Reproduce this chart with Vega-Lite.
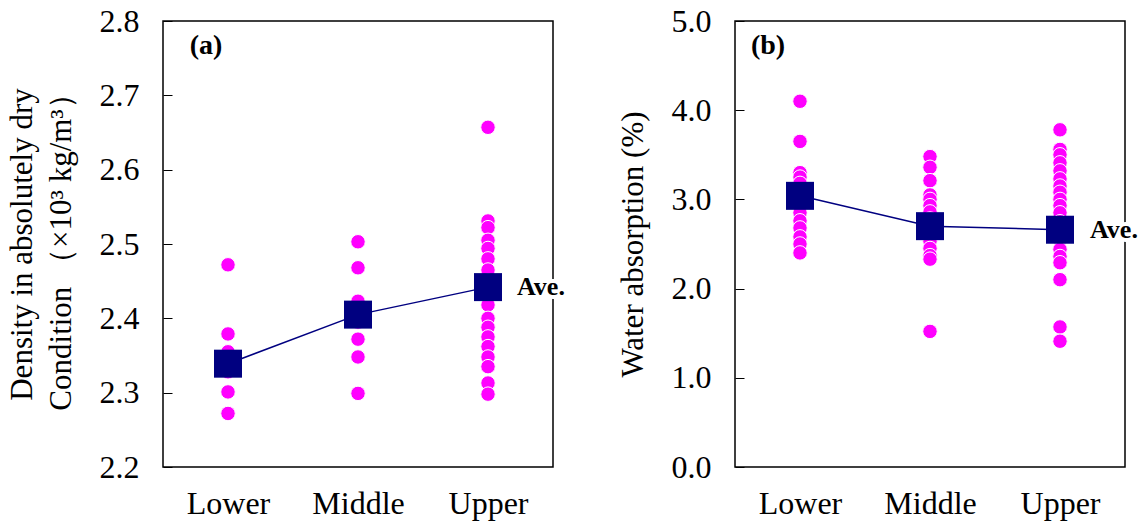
{
  "$schema": "https://vega.github.io/schema/vega-lite/v6.json",
  "padding": {"left": 5, "top": 4, "right": 0, "bottom": 5},
  "background": "white",
  "config": {
    "font": "Liberation Serif",
    "view": {"stroke": "black", "strokeWidth": 1.5},
    "text": {"font": "Liberation Serif"},
    "style": {"guide-label": {"font": "Liberation Serif"}, "guide-title": {"font": "Liberation Serif"}},
    "axis": {"labelColor": "black", "titleColor": "black", "labelFont": "Liberation Serif", "titleFont": "Liberation Serif", "titleFontWeight": "normal", "grid": false, "domain": false}
  },
  "datasets": {
    "density": [
      {"pos": "Lower", "v": 2.472}, {"pos": "Lower", "v": 2.379}, {"pos": "Lower", "v": 2.355}, {"pos": "Lower", "v": 2.345}, {"pos": "Lower", "v": 2.328}, {"pos": "Lower", "v": 2.301}, {"pos": "Lower", "v": 2.272},
      {"pos": "Middle", "v": 2.503}, {"pos": "Middle", "v": 2.468}, {"pos": "Middle", "v": 2.423}, {"pos": "Middle", "v": 2.41}, {"pos": "Middle", "v": 2.395}, {"pos": "Middle", "v": 2.372}, {"pos": "Middle", "v": 2.348}, {"pos": "Middle", "v": 2.299},
      {"pos": "Upper", "v": 2.657}, {"pos": "Upper", "v": 2.531}, {"pos": "Upper", "v": 2.522}, {"pos": "Upper", "v": 2.505}, {"pos": "Upper", "v": 2.494}, {"pos": "Upper", "v": 2.48}, {"pos": "Upper", "v": 2.465}, {"pos": "Upper", "v": 2.45}, {"pos": "Upper", "v": 2.43}, {"pos": "Upper", "v": 2.418}, {"pos": "Upper", "v": 2.4}, {"pos": "Upper", "v": 2.388}, {"pos": "Upper", "v": 2.375}, {"pos": "Upper", "v": 2.362}, {"pos": "Upper", "v": 2.348}, {"pos": "Upper", "v": 2.335}, {"pos": "Upper", "v": 2.313}, {"pos": "Upper", "v": 2.298}
    ],
    "densityAvg": [
      {"pos": "Lower", "v": 2.339}, {"pos": "Middle", "v": 2.405}, {"pos": "Upper", "v": 2.442, "label": "Ave."}
    ],
    "densityTag": [{"pos": "Lower", "v": 2.767, "t": "(a)"}],
    "water": [
      {"pos": "Lower", "v": 4.1}, {"pos": "Lower", "v": 3.65}, {"pos": "Lower", "v": 3.3}, {"pos": "Lower", "v": 3.25}, {"pos": "Lower", "v": 3.18}, {"pos": "Lower", "v": 3.1}, {"pos": "Lower", "v": 2.98}, {"pos": "Lower", "v": 2.9}, {"pos": "Lower", "v": 2.85}, {"pos": "Lower", "v": 2.76}, {"pos": "Lower", "v": 2.68}, {"pos": "Lower", "v": 2.58}, {"pos": "Lower", "v": 2.5}, {"pos": "Lower", "v": 2.4},
      {"pos": "Middle", "v": 3.48}, {"pos": "Middle", "v": 3.36}, {"pos": "Middle", "v": 3.21}, {"pos": "Middle", "v": 3.05}, {"pos": "Middle", "v": 3.0}, {"pos": "Middle", "v": 2.93}, {"pos": "Middle", "v": 2.86}, {"pos": "Middle", "v": 2.78}, {"pos": "Middle", "v": 2.62}, {"pos": "Middle", "v": 2.53}, {"pos": "Middle", "v": 2.45}, {"pos": "Middle", "v": 2.37}, {"pos": "Middle", "v": 2.33}, {"pos": "Middle", "v": 1.52},
      {"pos": "Upper", "v": 3.78}, {"pos": "Upper", "v": 3.56}, {"pos": "Upper", "v": 3.5}, {"pos": "Upper", "v": 3.41}, {"pos": "Upper", "v": 3.32}, {"pos": "Upper", "v": 3.23}, {"pos": "Upper", "v": 3.15}, {"pos": "Upper", "v": 3.08}, {"pos": "Upper", "v": 3.0}, {"pos": "Upper", "v": 2.93}, {"pos": "Upper", "v": 2.85}, {"pos": "Upper", "v": 2.75}, {"pos": "Upper", "v": 2.55}, {"pos": "Upper", "v": 2.44}, {"pos": "Upper", "v": 2.36}, {"pos": "Upper", "v": 2.29}, {"pos": "Upper", "v": 2.1}, {"pos": "Upper", "v": 1.57}, {"pos": "Upper", "v": 1.41}
    ],
    "waterAvg": [
      {"pos": "Lower", "v": 3.04}, {"pos": "Middle", "v": 2.7}, {"pos": "Upper", "v": 2.66, "label": "Ave."}
    ],
    "waterTag": [{"pos": "Lower", "v": 4.72, "t": "(b)"}]
  },
  "spacing": 50,
  "hconcat": [
    {
      "width": 390,
      "height": 446,
      "encoding": {
        "x": {"field": "pos", "type": "nominal", "scale": {"type": "point", "padding": 0.5, "domain": ["Lower", "Middle", "Upper"]},
              "axis": {"title": null, "labelAngle": 0, "ticks": false, "labelFont": "Liberation Serif", "labelFontSize": 32, "labelPadding": 21, "labelBaseline": "top"}},
        "y": {"field": "v", "type": "quantitative", "scale": {"domain": [2.2, 2.8], "nice": false, "zero": false},
              "axis": {"values": [2.2, 2.3, 2.4, 2.5, 2.6, 2.7, 2.8], "format": ".1f", "labelFont": "Liberation Serif", "labelFontSize": 32, "tickSize": -9, "tickColor": "black", "tickWidth": 1, "labelPadding": 33,
                       "title": ["Density in absolutely dry", "Condition （×10³ kg/m³）"], "titleFont": "Liberation Serif", "titleFontSize": 31, "titleLineHeight": 39, "titlePadding": 22}}
      },
      "layer": [
        {"data": {"name": "density"}, "mark": {"type": "circle", "size": 210, "color": "#FF00FF", "opacity": 1, "stroke": "white", "strokeWidth": 1}},
        {"data": {"name": "densityAvg"}, "mark": {"type": "line", "color": "#000080", "strokeWidth": 1.5}},
        {"data": {"name": "densityAvg"}, "mark": {"type": "square", "size": 784, "color": "#000080", "opacity": 1}},
        {"data": {"name": "densityAvg"}, "transform": [{"filter": "datum.label"}], "mark": {"type": "text", "font": "Liberation Serif", "align": "left", "baseline": "middle", "dx": 29, "fontSize": 26, "fontWeight": "bold", "stroke": "white", "strokeWidth": 8, "fill": "white"}, "encoding": {"text": {"field": "label"}}},
        {"data": {"name": "densityAvg"}, "transform": [{"filter": "datum.label"}], "mark": {"type": "text", "font": "Liberation Serif", "align": "left", "baseline": "middle", "dx": 29, "fontSize": 26, "fontWeight": "bold", "color": "black"}, "encoding": {"text": {"field": "label"}}},
        {"data": {"name": "densityTag"}, "mark": {"type": "text", "font": "Liberation Serif", "align": "center", "baseline": "middle", "dx": -22, "fontSize": 28, "fontWeight": "bold", "color": "black"}, "encoding": {"text": {"field": "t"}}}
      ]
    },
    {
      "width": 390,
      "height": 446,
      "encoding": {
        "x": {"field": "pos", "type": "nominal", "scale": {"type": "point", "padding": 0.5, "domain": ["Lower", "Middle", "Upper"]},
              "axis": {"title": null, "labelAngle": 0, "ticks": false, "labelFont": "Liberation Serif", "labelFontSize": 32, "labelPadding": 21, "labelBaseline": "top"}},
        "y": {"field": "v", "type": "quantitative", "scale": {"domain": [0, 5], "nice": false, "zero": false},
              "axis": {"values": [0, 1, 2, 3, 4, 5], "format": ".1f", "labelFont": "Liberation Serif", "labelFontSize": 32, "tickSize": -9, "tickColor": "black", "tickWidth": 1, "labelPadding": 33,
                       "title": "Water absorption (%)", "titleFont": "Liberation Serif", "titleFontSize": 31, "titlePadding": 22}}
      },
      "layer": [
        {"data": {"name": "water"}, "mark": {"type": "circle", "size": 210, "color": "#FF00FF", "opacity": 1, "stroke": "white", "strokeWidth": 1}},
        {"data": {"name": "waterAvg"}, "mark": {"type": "line", "color": "#000080", "strokeWidth": 1.5}},
        {"data": {"name": "waterAvg"}, "mark": {"type": "square", "size": 784, "color": "#000080", "opacity": 1}},
        {"data": {"name": "waterAvg"}, "transform": [{"filter": "datum.label"}], "mark": {"type": "text", "font": "Liberation Serif", "align": "left", "baseline": "middle", "dx": 30, "fontSize": 26, "fontWeight": "bold", "stroke": "white", "strokeWidth": 8, "fill": "white"}, "encoding": {"text": {"field": "label"}}},
        {"data": {"name": "waterAvg"}, "transform": [{"filter": "datum.label"}], "mark": {"type": "text", "font": "Liberation Serif", "align": "left", "baseline": "middle", "dx": 30, "fontSize": 26, "fontWeight": "bold", "color": "black"}, "encoding": {"text": {"field": "label"}}},
        {"data": {"name": "waterTag"}, "mark": {"type": "text", "font": "Liberation Serif", "align": "center", "baseline": "middle", "dx": -32, "fontSize": 28, "fontWeight": "bold", "color": "black"}, "encoding": {"text": {"field": "t"}}}
      ]
    }
  ]
}
